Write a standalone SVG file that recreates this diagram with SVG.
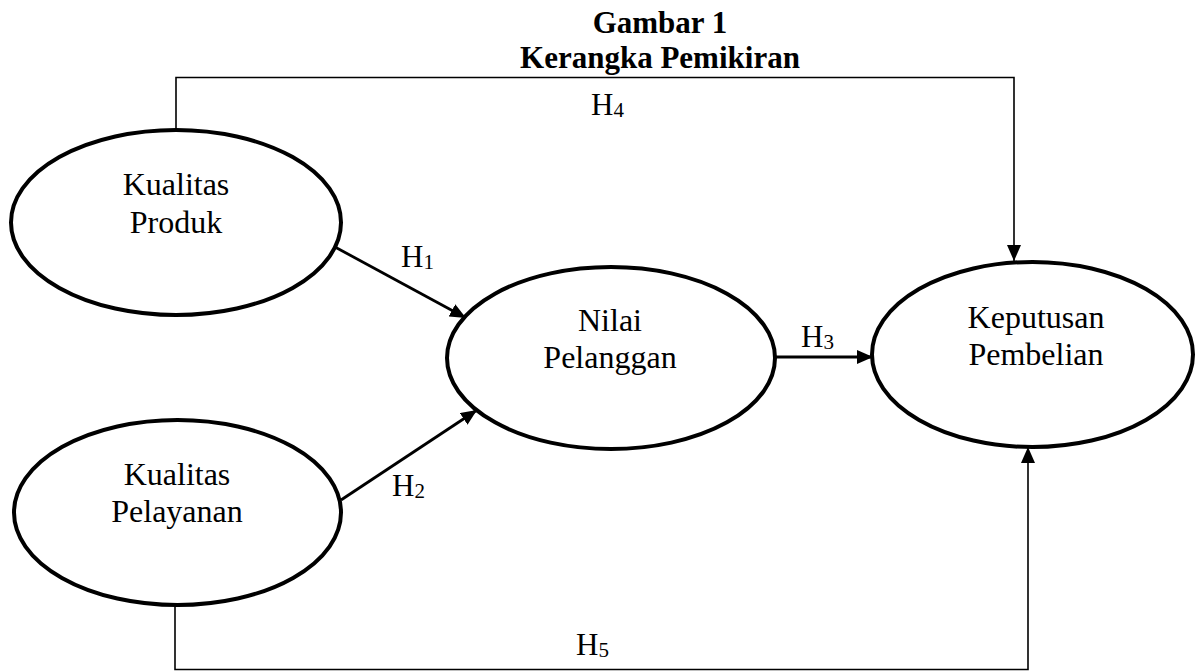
<svg xmlns="http://www.w3.org/2000/svg" width="1195" height="671" viewBox="0 0 1195 671">
<style>
  .node { fill: #ffffff; stroke: #000000; stroke-width: 4; }
  .lbl { font-family: "Liberation Serif", "Times New Roman", serif; font-size: 32px; fill: #000; text-anchor: middle; }
  .h { font-family: "Liberation Serif", "Times New Roman", serif; font-size: 31px; fill: #000; }
  .sub { font-size: 21px; }
  .title { font-family: "Liberation Serif", "Times New Roman", serif; font-size: 31px; font-weight: bold; fill: #000; text-anchor: middle; }
  .thin { fill: none; stroke: #000; stroke-width: 1.6; }
  .thick { fill: none; stroke: #000; stroke-width: 2.8; }
</style>
<defs>
  <marker id="arr" viewBox="0 0 16 14" refX="16" refY="7" markerWidth="16" markerHeight="14" markerUnits="userSpaceOnUse" orient="auto">
    <path d="M0,0 L16,7 L0,14 z" fill="#000"/>
  </marker>
</defs>
<rect width="1195" height="671" fill="#ffffff"/>
<g id="title">
  <text class="title" x="660" y="33">Gambar 1</text>
  <text class="title" x="660" y="68">Kerangka Pemikiran</text>
</g>
<g id="connectors">
  <polyline class="thin" points="176,130 176,77.5 1014,77.5 1014,261" marker-end="url(#arr)"/>
  <polyline class="thin" points="175,605 175,669.5 1028,669.5 1028,447" marker-end="url(#arr)"/>
  <line class="thick" x1="335" y1="247" x2="466" y2="318" marker-end="url(#arr)"/>
  <line class="thick" x1="341" y1="500" x2="477" y2="410" marker-end="url(#arr)"/>
  <line class="thick" x1="775" y1="357" x2="873" y2="357" marker-end="url(#arr)"/>
  <text class="h" x="591" y="115">H<tspan class="sub" dy="2">4</tspan></text>
  <text class="h" x="401" y="267">H<tspan class="sub" dy="2">1</tspan></text>
  <text class="h" x="801" y="347">H<tspan class="sub" dy="2">3</tspan></text>
  <text class="h" x="392" y="496">H<tspan class="sub" dy="2">2</tspan></text>
  <text class="h" x="576" y="655">H<tspan class="sub" dy="2">5</tspan></text>
</g>
<g id="kualitas-produk">
  <ellipse class="node" cx="176" cy="222.5" rx="165" ry="92.5"/>
  <text class="lbl" x="176" y="195">Kualitas</text>
  <text class="lbl" x="176" y="233">Produk</text>
</g>
<g id="kualitas-pelayanan">
  <ellipse class="node" cx="177.5" cy="512.5" rx="163.5" ry="92.5"/>
  <text class="lbl" x="177" y="485">Kualitas</text>
  <text class="lbl" x="177" y="522">Pelayanan</text>
</g>
<g id="nilai-pelanggan">
  <ellipse class="node" cx="611" cy="358" rx="164" ry="91"/>
  <text class="lbl" x="610" y="331">Nilai</text>
  <text class="lbl" x="610" y="368">Pelanggan</text>
</g>
<g id="keputusan-pembelian">
  <ellipse class="node" cx="1032.5" cy="354.5" rx="160.5" ry="92.5"/>
  <text class="lbl" x="1036" y="328">Keputusan</text>
  <text class="lbl" x="1036" y="365">Pembelian</text>
</g>
</svg>
